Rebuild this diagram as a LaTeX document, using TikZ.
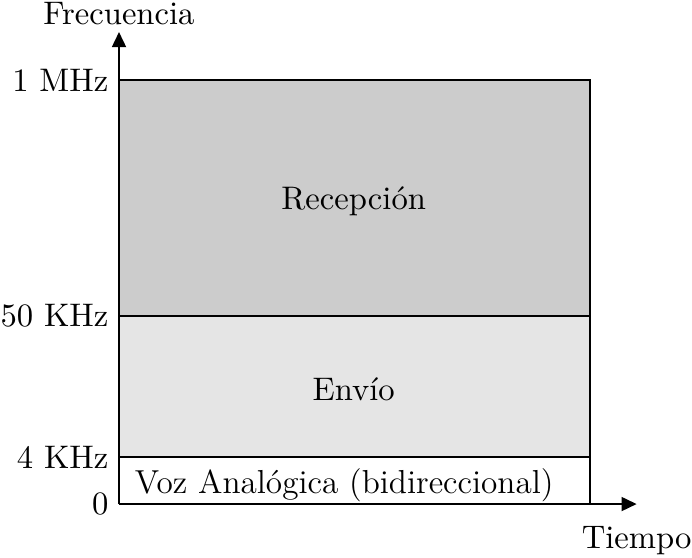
\documentclass[tikz,border=0pt]{standalone}
\usepackage{amsmath,amssymb}
\usepackage{xcolor}
\usepackage{tikz}
\usetikzlibrary{positioning, arrows.meta, calc}
\tikzset{
  bandfill/.style={
    draw=black,
    line width=0.7pt
  },
  axisarrow/.style={
    -{Triangle[length=5pt, width=4.6pt]},
    line width=0.7pt
  },
  ticklabel/.style={
    anchor=east,
    font=\fontsize{10.8}{13}\selectfont,
    inner sep=3.3pt
  },
  bandlabel/.style={
    font=\fontsize{10.8}{13}\selectfont,
    align=center,
    inner sep=1pt
  }
}

\begin{document}
\begin{tikzpicture}
  \useasboundingbox (-1.384,-0.616) rectangle (6.664,5.862);
  % axis points and band limits
  \coordinate (origin) at (0,0);
  \coordinate (ytop) at (0,5.49);
  \coordinate (xend) at (6.02,0);
  \coordinate (f4) at (0,0.547);
  \coordinate (f50) at (0,2.186);
  \coordinate (f1m) at (0,4.931);
  \coordinate (right0) at (5.478,0);
  \coordinate (right4) at (5.478,0.547);
  \coordinate (right50) at (5.478,2.186);
  \coordinate (right1m) at (5.478,4.931);

  % bands
  \fill[black!20] (f50) rectangle (right1m);
  \fill[black!10] (f4) rectangle (right50);
  \draw[bandfill] (f50) -- (right50);
  \draw[bandfill] (f4) -- (right4);
  \draw[bandfill] (f1m) -- (right1m) -- (right0);

  % axes
  \draw[axisarrow] (origin) -- (ytop);
  \draw[axisarrow] (origin) -- (xend);

  \node[bandlabel] (rx) at (2.73,3.524) {Recepción};
  \node[bandlabel] (tx) at (2.73,1.337) {Envío};
  \node[bandlabel, font=\fontsize{11}{13}\selectfont] (voz) at (2.62,0.221) {Voz Analógica (bidireccional)};

  \node[ticklabel] (l0) at (origin) {0};
  \node[ticklabel] (l4) at (f4) {4 KHz};
  \node[ticklabel] (l50) at (f50) {50 KHz};
  \node[ticklabel] (l1m) at (f1m) {1 MHz};

  \node[bandlabel] (freq) at (0,5.70) {Frecuencia};
  \node[bandlabel] (time) at (6.02,-0.43) {Tiempo};
\end{tikzpicture}
\end{document}
